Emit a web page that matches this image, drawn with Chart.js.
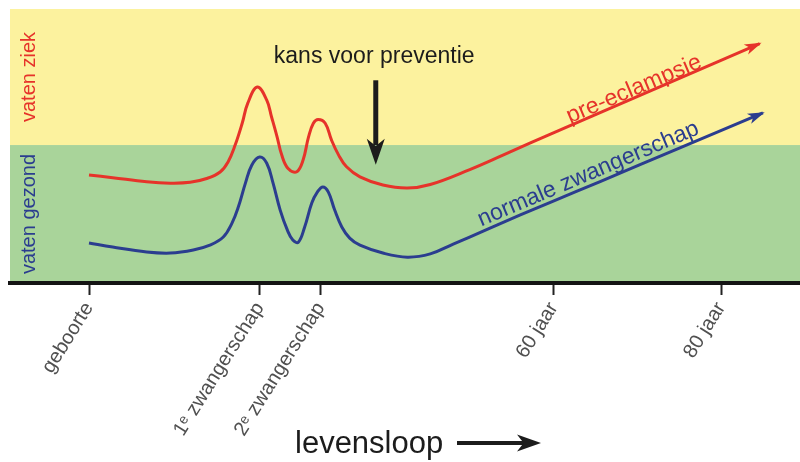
<!DOCTYPE html>
<html>
<head>
<meta charset="utf-8">
<script src="https://cdn.jsdelivr.net/npm/chart.js@4.4.1/dist/chart.umd.min.js"></script>
<style>
  html, body { margin: 0; padding: 0; background: #fff; }
</style>
</head>
<body>
<canvas id="chart" width="800" height="462"></canvas>
<script>
// x = levensloop (jaren), y = toestand van de vaten (0..100, grens gezond/ziek op 50)
const tickAges = [0, 21.6, 29.3, 58.8, 80];
const tickLabels = ['geboorte', '1ᵉ zwangerschap', '2ᵉ zwangerschap', '60 jaar', '80 jaar'];

const preAge = [0, 3.0, 7.3, 10.3, 12.8, 14.9, 16.6, 17.6, 18.5, 19.4, 20.1, 21.3, 22.5, 23.1, 23.8, 24.4, 25.2, 26.3, 27.1, 27.8, 28.4, 29.0, 29.9, 30.7, 31.6, 32.6, 34.3, 37.2, 40.3, 43.2, 48.2, 52.4, 55.8, 60.9, 64.7, 74.8, 84.9];
const preLevel = [39.0, 38.0, 36.5, 36.0, 36.3, 37.7, 40.1, 43.8, 50.0, 58.1, 65.4, 71.3, 66.5, 60.4, 53.1, 46.3, 41.4, 40.2, 44.5, 53.1, 58.0, 59.4, 58.0, 51.8, 46.3, 42.0, 38.3, 35.3, 34.2, 35.5, 41.0, 46.3, 50.7, 57.1, 61.9, 74.6, 87.3];

const normAge = [0, 3.0, 7.3, 10.3, 13.2, 15.3, 17.0, 18.1, 18.9, 19.8, 20.6, 21.6, 22.5, 23.3, 24.2, 25.1, 25.8, 26.5, 27.3, 28.2, 28.9, 29.6, 30.3, 31.1, 32.0, 33.0, 34.3, 37.2, 40.3, 43.2, 46.1, 50.4, 54.6, 58.7, 64.7, 74.8, 85.3];
const normLevel = [14.0, 12.5, 10.7, 10.3, 11.4, 13.2, 16.2, 21.3, 27.2, 36.0, 42.6, 45.6, 43.3, 36.0, 26.1, 18.8, 15.1, 14.3, 19.9, 28.7, 32.7, 34.6, 32.7, 26.1, 19.9, 15.8, 13.2, 10.3, 8.8, 10.0, 13.6, 19.0, 24.3, 29.3, 36.6, 49.0, 61.8];

const bandLabels = ['vaten ziek', 'vaten gezond'];
const seriesLabels = ['pre-eclampsie', 'normale zwangerschap'];
const noteText = 'kans voor preventie';
const axisTitle = 'levensloop';

const RED = '#e6332a';
const BLUE = '#2b3d8f';
const FONT = "'Liberation Sans', Arial, Helvetica, sans-serif";
const SPLIT = 50;

const zip = (xs, ys) => xs.map((x, i) => ({ x: x, y: ys[i] }));

function arrowHead(ctx, x, y, ang, len, half) {
    ctx.save();
    ctx.translate(x, y);
    ctx.rotate(ang);
    ctx.beginPath();
    ctx.moveTo(2, 0);
    ctx.lineTo(-len, -half);
    ctx.lineTo(-len * 0.7, 0);
    ctx.lineTo(-len, half);
    ctx.closePath();
    ctx.fill();
    ctx.restore();
}

// yellow/green bands behind everything
const bands = {
    id: 'bands',
    beforeDraw(chart) {
        const { ctx, chartArea: a, scales: { y } } = chart;
        const mid = y.getPixelForValue(SPLIT);
        ctx.save();
        ctx.fillStyle = '#fcf29e';
        ctx.fillRect(a.left, a.top, a.width, mid - a.top);
        ctx.fillStyle = '#a9d49a';
        ctx.fillRect(a.left, mid, a.width, a.bottom - mid);
        ctx.restore();
    }
};

// arrows at the end of each line + all texts
const notes = {
    id: 'notes',
    afterDatasetsDraw(chart) {
        const ctx = chart.ctx;
        chart.data.datasets.forEach((ds, i) => {
            const pts = chart.getDatasetMeta(i).data;
            const p = pts[pts.length - 1], q = pts[pts.length - 2];
            ctx.fillStyle = ds.borderColor;
            arrowHead(ctx, p.x, p.y, Math.atan2(p.y - q.y, p.x - q.x), 15, 5.5);
        });
    },
    afterDraw(chart) {
        const { ctx, chartArea: a, scales: { x, y } } = chart;
        ctx.save();

        // band labels on the left
        const mid = y.getPixelForValue(SPLIT);
        ctx.font = '20px ' + FONT;
        ctx.textAlign = 'center';
        ctx.textBaseline = 'alphabetic';
        [[bandLabels[0], RED, (a.top + mid) / 2], [bandLabels[1], BLUE, (mid + a.bottom) / 2]].forEach(([t, c, cy]) => {
            ctx.save();
            ctx.translate(a.left + 25, cy);
            ctx.rotate(-Math.PI / 2);
            ctx.fillStyle = c;
            ctx.fillText(t, 0, 0);
            ctx.restore();
        });

        // series labels along the rising lines
        ctx.font = '23px ' + FONT;
        ctx.textBaseline = 'middle';
        [[seriesLabels[0], RED, 69, 70.5], [seriesLabels[1], BLUE, 63.2, 39.3]].forEach(([t, c, vx, vy]) => {
            ctx.save();
            ctx.translate(x.getPixelForValue(vx), y.getPixelForValue(vy));
            ctx.rotate(-23 * Math.PI / 180);
            ctx.fillStyle = c;
            ctx.fillText(t, 0, 0);
            ctx.restore();
        });

        // kans voor preventie + arrow
        const nx = x.getPixelForValue(36.3);
        ctx.fillStyle = '#1c1c1c';
        ctx.strokeStyle = '#1c1c1c';
        ctx.font = '23px ' + FONT;
        ctx.textBaseline = 'alphabetic';
        ctx.fillText(noteText, x.getPixelForValue(36.1), y.getPixelForValue(80));
        ctx.lineWidth = 5;
        ctx.beginPath();
        ctx.moveTo(nx, y.getPixelForValue(73.8));
        ctx.lineTo(nx, y.getPixelForValue(50));
        ctx.stroke();
        arrowHead(ctx, nx, y.getPixelForValue(43.5), Math.PI / 2, 24, 9);

        // levensloop ---->
        ctx.font = '31px ' + FONT;
        ctx.textAlign = 'left';
        ctx.fillText(axisTitle, 295, 453);
        ctx.lineWidth = 4;
        ctx.beginPath();
        ctx.moveTo(457, 443);
        ctx.lineTo(525, 443);
        ctx.stroke();
        arrowHead(ctx, 539, 443, 0, 22, 8.5);

        ctx.restore();
    }
};

new Chart(document.getElementById('chart'), {
    type: 'line',
    data: {
        datasets: [
            { label: seriesLabels[0], data: zip(preAge, preLevel), borderColor: RED },
            { label: seriesLabels[1], data: zip(normAge, normLevel), borderColor: BLUE }
        ]
    },
    options: {
        responsive: false,
        animation: false,
        layout: { padding: { left: 10, top: 9, right: 0, bottom: 0 } },
        elements: {
            line: { borderWidth: 3, tension: 0.4, fill: false },
            point: { radius: 0 }
        },
        plugins: { legend: { display: false }, tooltip: { enabled: false } },
        scales: {
            x: {
                type: 'linear',
                min: -10,
                max: 90,
                afterBuildTicks: s => { s.ticks = tickAges.map(v => ({ value: v })); },
                afterFit: s => { s.height = 179; },
                ticks: {
                    autoSkip: false,
                    minRotation: 58,
                    maxRotation: 58,
                    padding: 3,
                    color: '#505050',
                    font: { family: FONT, size: 20 },
                    callback: (v, i) => tickLabels[i]
                },
                grid: { drawOnChartArea: false, tickLength: 12, tickWidth: 2, tickColor: '#222' },
                border: { color: '#141414', width: 4 }
            },
            y: { display: false, min: -0.7, max: 100 }
        }
    },
    plugins: [bands, notes]
});
</script>
</body>
</html>
